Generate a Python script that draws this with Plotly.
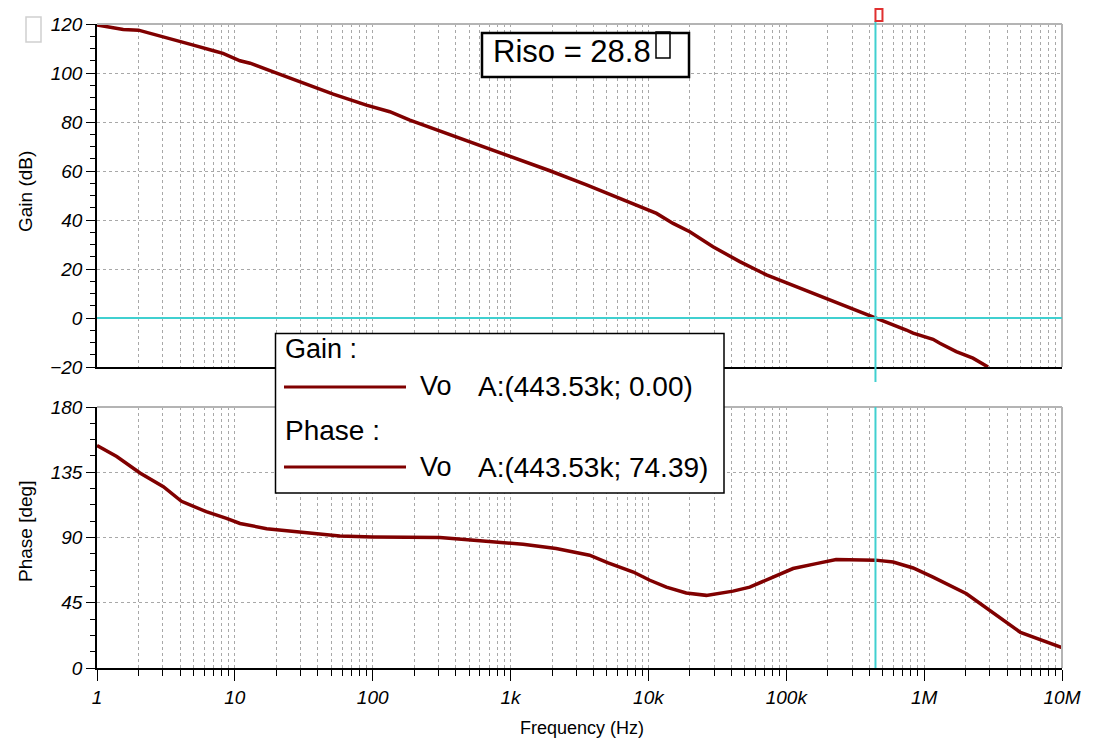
import plotly.graph_objects as go

# ---------------- data ----------------
freq_gain = [1, 1.55, 2, 3.03, 4, 5, 7, 8.2, 10.9, 12.9,
             19, 29.6, 51.7, 90, 133, 186, 343, 599, 1045, 1928,
             3557, 6560, 8660, 11450, 15100, 19950, 29400, 46000, 71800, 106000,
             185000, 288000, 443530, 743000, 832000, 1160000, 1300000, 1710000, 2260000, 2910000]
gain_db = [119.6, 117.8, 117.5, 114.8, 113.2, 111.4, 109.1, 108.0, 105.0, 104.0,
           100.5, 96.4, 91.4, 86.9, 84.2, 80.8, 75.4, 70.6, 65.6, 60.1,
           54.3, 48.2, 45.4, 42.7, 38.6, 35.2, 29.1, 23.0, 17.6, 13.9,
           8.4, 4.2, 0.0, -4.9, -6.2, -8.7, -10.3, -13.7, -16.4, -20.0]

freq_phase = [1, 1.39, 2.05, 3.03, 4.1, 6.2, 8.7, 10.9, 17, 25,
              33, 57.7, 100, 307, 600, 1233, 2140, 3740, 5100, 7770,
              10240, 13500, 18800, 26300, 41100, 54300, 80200, 112000, 165000, 230000,
              443530, 596000, 832000, 1160000, 2030000, 3530000, 5000000, 10000000]
phase_deg = [153.5, 145.8, 134.5, 125, 115, 107.8, 103.2, 99.7, 96.1, 94.6,
             93.2, 91.1, 90.4, 90, 87.7, 85.4, 82.4, 77.8, 72.5, 66.2,
             60.5, 55.8, 51.7, 50.1, 53, 55.8, 62.7, 68.6, 72, 74.8,
             74.39, 73.1, 69, 62.7, 51.2, 35, 24.5, 14]

x_tickvals = [1, 10, 100, 1e3, 1e4, 1e5, 1e6, 1e7]
x_ticktext = ["1", "10", "100", "1k", "10k", "100k", "1M", "10M"]
gain_ticks = [-20, 0, 20, 40, 60, 80, 100, 120]
phase_ticks = [0, 45, 90, 135, 180]

cursor_freq = 443.53e3
cursor_gain = 0.00
cursor_phase = 74.39
riso_label = "Riso = 28.8"

# ---------------- style ----------------
W, H = 1105, 743
L, R, T, B = 97, 43, 24, 75
PH = H - T - B
PW = W - L - R
CURVE = "#800000"
CYAN = "#40D0D0"
GRID = "#a8a8a8"
BORDER = "#b4b4b4"
FONT = "Liberation Sans, Arial, sans-serif"


def px(xp):
    return (xp - L) / PW


def py(yp):
    return (H - B - yp) / PH


top_dom = [py(367), 1.0]
bot_dom = [0.0, py(407)]

fig = go.Figure()
fig.add_trace(go.Scatter(x=freq_gain, y=gain_db, mode="lines",
                         line=dict(color=CURVE, width=3.5), xaxis="x", yaxis="y",
                         showlegend=False, hoverinfo="skip"))
fig.add_trace(go.Scatter(x=freq_phase, y=phase_deg, mode="lines",
                         line=dict(color=CURVE, width=3.5), xaxis="x2", yaxis="y2",
                         showlegend=False, hoverinfo="skip"))

griddash = "3px,3px"
tickfont = dict(family=FONT, size=19, color="black", style="italic")
xcommon = dict(type="log", range=[0, 7], tickmode="array", tickvals=x_tickvals,
               showgrid=True, gridcolor=GRID, griddash=griddash, gridwidth=1,
               showline=True, linecolor="black", linewidth=1.5, zeroline=False,
               tickfont=tickfont)
fig.update_layout(
    xaxis=dict(**xcommon, anchor="y", domain=[0, 1], showticklabels=False, ticks="",
               minor=dict(dtick="D1", showgrid=True, gridcolor=GRID, griddash=griddash,
                          gridwidth=1, ticks="")),
    xaxis2=dict(**xcommon, anchor="y2", domain=[0, 1], ticktext=x_ticktext,
                ticks="outside", ticklen=11, tickcolor="black", tickwidth=1,
                minor=dict(dtick="D1", showgrid=True, gridcolor=GRID, griddash=griddash,
                           gridwidth=1, ticks="outside", ticklen=6, tickcolor="black")),
    yaxis=dict(domain=top_dom, anchor="x", range=[-20, 120], tickmode="array",
               tickvals=gain_ticks, showgrid=True, gridcolor=GRID, griddash=griddash,
               showline=True, linecolor="black", linewidth=1.5, zeroline=False,
               ticks="outside", ticklen=9, tickcolor="black",
               minor=dict(dtick=5, ticks="outside", ticklen=5, tickcolor="black", showgrid=False),
               tickfont=tickfont),
    yaxis2=dict(domain=bot_dom, anchor="x2", range=[0, 180], tickmode="array",
                tickvals=phase_ticks, showgrid=True, gridcolor=GRID, griddash=griddash,
                showline=True, linecolor="black", linewidth=1.5, zeroline=False,
                ticks="outside", ticklen=9, tickcolor="black",
                minor=dict(tick0=0, dtick=11.25, ticks="outside", ticklen=5, tickcolor="black", showgrid=False),
                tickfont=tickfont),
    width=W, height=H, margin=dict(l=L, r=R, t=T, b=B),
    paper_bgcolor="white", plot_bgcolor="white", showlegend=False,
    font=dict(family=FONT, color="black"),
)

shapes = []
# gray top/right borders
for dom in (top_dom, bot_dom):
    shapes.append(dict(type="line", xref="paper", yref="paper", x0=0, x1=1, y0=dom[1], y1=dom[1],
                       line=dict(color=BORDER, width=2)))
    shapes.append(dict(type="line", xref="paper", yref="paper", x0=1, x1=1, y0=dom[0], y1=dom[1],
                       line=dict(color=BORDER, width=2)))
# cursor lines
shapes.append(dict(type="line", xref="paper", yref="y", x0=0, x1=1, y0=cursor_gain, y1=cursor_gain,
                   line=dict(color=CYAN, width=2)))
shapes.append(dict(type="line", xref="x", yref="paper", x0=cursor_freq, x1=cursor_freq,
                   y0=py(382), y1=py(21), line=dict(color=CYAN, width=2)))
shapes.append(dict(type="line", xref="x", yref="paper", x0=cursor_freq, x1=cursor_freq,
                   y0=bot_dom[0], y1=bot_dom[1], line=dict(color=CYAN, width=2)))
# cursor marker
shapes.append(dict(type="rect", xref="x", xsizemode="pixel", xanchor=cursor_freq, x0=-7, x1=7,
                   yref="paper", y0=py(21), y1=py(9), line=dict(color="#e03030", width=2),
                   fillcolor="white"))
# top-left faint box
shapes.append(dict(type="rect", xref="paper", yref="paper", x0=px(26), x1=px(41), y0=py(42), y1=py(17),
                   line=dict(color="#d0d0d0", width=1.5), fillcolor="white"))
# Riso box
shapes.append(dict(type="rect", xref="paper", yref="paper", x0=px(482), x1=px(689), y0=py(77), y1=py(33),
                   line=dict(color="black", width=2.5), fillcolor="white"))
shapes.append(dict(type="rect", xref="paper", yref="paper", x0=px(656), x1=px(670), y0=py(58), y1=py(32),
                   line=dict(color="black", width=1.5), fillcolor="rgba(0,0,0,0)"))
# legend box
shapes.append(dict(type="rect", xref="paper", yref="paper", x0=px(275.5), x1=px(724), y0=py(493), y1=py(333.5),
                   line=dict(color="black", width=1.5), fillcolor="white"))
shapes.append(dict(type="line", xref="paper", yref="paper", x0=px(284), x1=px(406), y0=py(387), y1=py(387),
                   line=dict(color=CURVE, width=3)))
shapes.append(dict(type="line", xref="paper", yref="paper", x0=px(284), x1=px(406), y0=py(467), y1=py(467),
                   line=dict(color=CURVE, width=3)))
fig.update_layout(shapes=shapes)

ann = []


def text(x, y, s, size, xanchor="left", angle=0, color="black"):
    ann.append(dict(text=s, xref="paper", yref="paper", x=px(x), y=py(y), xanchor=xanchor,
                    yanchor="middle", showarrow=False, textangle=angle,
                    font=dict(family=FONT, size=size, color=color), borderpad=0, borderwidth=0))


text(493, 52, riso_label, 31)
text(285, 349, "Gain :", 27)
text(420, 386, "Vo", 27)
text(478, 386, f"A:({cursor_freq/1e3:.2f}k; {cursor_gain:.2f})", 28)
text(285, 430, "Phase :", 28)
text(420, 467, "Vo", 27)
text(478, 467, f"A:({cursor_freq/1e3:.2f}k; {cursor_phase:.2f})", 28)
text(582, 728, "Frequency (Hz)", 18, xanchor="center")
text(25, 192, "Gain (dB)", 19, xanchor="center", angle=-90)
text(25, 532, "Phase [deg]", 19, xanchor="center", angle=-90)
ann.append(dict(text="a", xref="x", yref="paper", x=cursor_freq, y=py(15), xanchor="center",
                yanchor="middle", showarrow=False, font=dict(family=FONT, size=8, color="#e03030")))
fig.update_layout(annotations=ann)

fig.write_html("out.html")
